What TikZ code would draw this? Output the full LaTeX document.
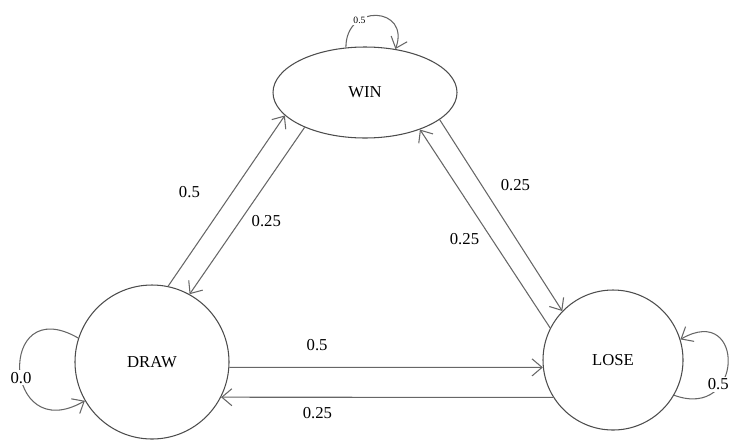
\documentclass[tikz,border=0pt]{standalone}
\usepackage{fontspec}
\setmainfont{Liberation Serif}
\usetikzlibrary{shapes.geometric,arrows.meta}

\begin{document}
\begin{tikzpicture}[
        state/.style={draw=black!70, line width=0.6pt, inner sep=0pt, font=\fontsize{9.5}{11}\selectfont},
        link/.style={draw=black!60, line width=0.6pt, -{Straight Barb[length=2mm,width=3.4mm]}},
        prob/.style={font=\fontsize{9.5}{11}\selectfont, fill=white, inner sep=1.1pt}
    ]
        \useasboundingbox (0,0) rectangle (14.62,8.82);

        \node[state, ellipse, minimum width=3.68cm, minimum height=1.82cm] (win) at (7.3,6.97) {WIN};
        \node[state, circle, minimum size=3.08cm] (drw) at (3.04,1.58) {DRAW};
        \node[state, circle, minimum size=2.8cm] (lose) at (12.26,1.62) {LOSE};

        \draw[link] (drw.78) -- node[prob, pos=0.55, left=6mm] {0.5} (win.196);
        \draw[link] (win.210) -- node[prob, pos=0.56, right=1.8mm] {0.25} (drw.61);
        \draw[link] (win.-20) -- node[prob, pos=0.34, right=3.4mm] {0.25} (lose.136);
        \draw[link] (lose.153) -- node[prob, pos=0.45, left=2mm] {0.25} (win.-34);
        \draw[link] (drw.-4) -- node[prob, pos=0.28, above=2.8mm] {0.5} (lose.186);
        \draw[link] (lose.212) -- node[prob, pos=0.71, below=1.6mm] {0.25} (drw.-27);

        \draw[link] (drw.162) .. controls +(150:1.9) and +(210:1.9) .. node[prob, pos=0.55] {0.0} (drw.210);
        \draw[link] (lose.-30) .. controls +(-20:1.5) and +(30:1.5) .. node[prob, pos=0.33, xshift=-0.6mm] {0.5} (lose.17);
        \draw[link] (win.113) .. controls +(90:0.9) and +(70:0.9) .. node[prob, pos=0.3, font=\fontsize{5.5}{6}\selectfont] {0.5} (win.55);
    \end{tikzpicture}
\end{document}
